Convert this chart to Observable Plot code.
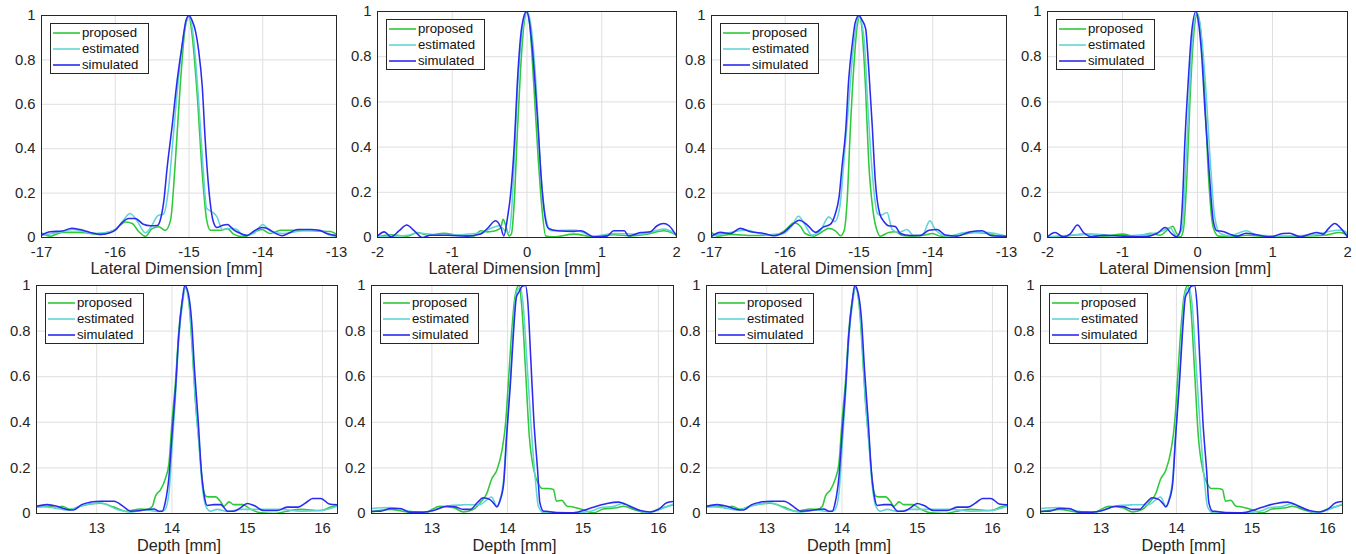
<!DOCTYPE html>
<html>
<head>
<meta charset="utf-8">
<script src="https://cdn.jsdelivr.net/npm/d3@7"></script>
<script src="https://cdn.jsdelivr.net/npm/@observablehq/plot@0.6"></script>
<style>
  html, body { margin: 0; padding: 0; background: #fff; }
  #root { position: relative; width: 1356px; height: 554px; overflow: hidden; background: #fff;
          font-family: "Liberation Sans", Arial, Helvetica, sans-serif; color: #262626; }
  .panel { position: absolute; }
  .panel svg { display: block; overflow: visible; }
  .legend { position: absolute; box-sizing: border-box; background: #fff; border: 1px solid #262626;
            font-size: 13.2px; color: #111; padding-top: 1px; }
  .legend .row { height: 16px; line-height: 16px; white-space: nowrap; display: flex; align-items: center; }
  .legend svg { display: block; margin-left: 2px; margin-right: 2px; flex: none; }
  .xlabel { position: absolute; font-size: 16.3px; line-height: 16.3px; white-space: nowrap; transform: translateX(-50%); }
</style>
</head>
<body>
<div id="root"></div>
<script>
// ---------- series / ticks ----------
const seriesNames = ["proposed", "estimated", "simulated"];
const seriesColors = ["#2fc93a", "#62d3d9", "#2b2bf0"];
const yTicks = [0, 0.2, 0.4, 0.6, 0.8, 1];
const lateralTicksA = [-17, -16, -15, -14, -13];
const lateralTicksB = [-2, -1, 0, 1, 2];
const depthTicks = [13, 14, 15, 16];
const xLabelLateral = "Lateral Dimension [mm]";
const xLabelDepth = "Depth [mm]";

// ---------- panel 1 (lateral, around -15 mm) ----------
const p1Proposed = [[-17.00,0.020],[-16.88,0.006],[-16.72,0.023],[-16.48,0.023],[-16.20,0.014],[-16.00,0.036],[-15.86,0.070],[-15.77,0.063],[-15.68,0.026],[-15.59,0.005],[-15.50,0.040],[-15.41,0.048],[-15.32,0.032],[-15.25,0.078],[-15.19,0.318],[-15.12,0.679],[-15.05,0.949],[-15.00,0.994],[-14.96,0.919],[-14.89,0.650],[-14.82,0.288],[-14.76,0.078],[-14.71,0.033],[-14.57,0.033],[-14.48,0.040],[-14.39,0.014],[-14.26,0.003],[-14.12,0.024],[-14.01,0.036],[-13.90,0.018],[-13.76,0.033],[-13.49,0.033],[-13.22,0.029],[-13.08,0.027],[-13.00,0.014]];
const p1Estimated = [[-17.00,0.009],[-16.72,0.026],[-16.57,0.036],[-16.29,0.018],[-16.00,0.033],[-15.89,0.078],[-15.80,0.108],[-15.71,0.078],[-15.59,0.021],[-15.50,0.056],[-15.43,0.096],[-15.34,0.108],[-15.28,0.213],[-15.21,0.468],[-15.14,0.724],[-15.07,0.919],[-15.00,0.994],[-14.94,0.904],[-14.87,0.619],[-14.81,0.318],[-14.76,0.131],[-14.69,0.116],[-14.62,0.093],[-14.55,0.036],[-14.44,0.041],[-14.35,0.036],[-14.26,0.009],[-14.12,0.018],[-14.00,0.059],[-13.90,0.029],[-13.74,0.018],[-13.49,0.029],[-13.22,0.033],[-13.10,0.011],[-13.00,0.006]];
const p1Simulated = [[-17.00,0.011],[-16.88,0.026],[-16.72,0.029],[-16.59,0.042],[-16.48,0.036],[-16.34,0.023],[-16.20,0.014],[-16.07,0.021],[-16.00,0.033],[-15.91,0.066],[-15.82,0.086],[-15.73,0.086],[-15.62,0.060],[-15.52,0.053],[-15.43,0.054],[-15.39,0.078],[-15.34,0.168],[-15.30,0.303],[-15.23,0.498],[-15.16,0.709],[-15.09,0.874],[-15.04,0.979],[-15.00,1.000],[-14.96,0.979],[-14.91,0.926],[-14.87,0.844],[-14.82,0.679],[-14.78,0.438],[-14.73,0.213],[-14.67,0.071],[-14.62,0.045],[-14.55,0.054],[-14.48,0.059],[-14.39,0.033],[-14.30,0.018],[-14.21,0.009],[-14.12,0.029],[-14.01,0.045],[-13.94,0.041],[-13.85,0.023],[-13.74,0.008],[-13.62,0.024],[-13.53,0.036],[-13.35,0.036],[-13.24,0.033],[-13.13,0.018],[-13.00,0.008]];

// ---------- panel 2 (lateral, around 0 mm) ----------
const p2Proposed = [[-2.00,0.003],[-1.82,0.012],[-1.60,0.006],[-1.47,0.022],[-1.33,0.010],[-1.11,0.019],[-0.93,0.010],[-0.71,0.007],[-0.62,0.030],[-0.53,0.025],[-0.42,0.030],[-0.35,0.044],[-0.32,0.081],[-0.29,0.059],[-0.24,0.007],[-0.21,0.015],[-0.17,0.160],[-0.13,0.460],[-0.085,0.750],[-0.04,0.945],[0.00,1.000],[0.04,0.930],[0.09,0.680],[0.15,0.350],[0.20,0.130],[0.25,0.007],[0.36,0.003],[0.63,0.015],[0.90,0.003],[1.16,0.012],[1.39,0.007],[1.61,0.015],[1.83,0.030],[2.00,0.012]];
const p2Estimated = [[-2.00,0.003],[-1.60,0.010],[-1.47,0.020],[-1.15,0.010],[-0.62,0.020],[-0.49,0.040],[-0.37,0.052],[-0.29,0.030],[-0.24,0.022],[-0.21,0.100],[-0.17,0.340],[-0.13,0.635],[-0.06,0.920],[0.00,1.000],[0.06,0.920],[0.12,0.680],[0.18,0.310],[0.25,0.089],[0.32,0.030],[0.63,0.033],[0.90,0.006],[1.16,0.018],[1.52,0.015],[1.83,0.037],[2.00,0.015]];
const p2Simulated = [[-2.00,0.007],[-1.91,0.025],[-1.82,0.003],[-1.71,0.030],[-1.61,0.055],[-1.51,0.030],[-1.40,0.000],[-1.29,0.010],[-1.06,0.010],[-0.80,0.006],[-0.62,0.015],[-0.53,0.040],[-0.42,0.074],[-0.35,0.044],[-0.31,0.007],[-0.26,0.089],[-0.22,0.190],[-0.17,0.410],[-0.13,0.680],[-0.085,0.890],[-0.04,0.980],[-0.01,1.000],[0.03,0.960],[0.07,0.840],[0.14,0.530],[0.20,0.220],[0.25,0.074],[0.29,0.040],[0.41,0.030],[0.63,0.027],[0.72,0.030],[0.90,0.003],[1.07,0.006],[1.16,0.030],[1.30,0.030],[1.36,0.007],[1.52,0.022],[1.65,0.025],[1.74,0.052],[1.83,0.062],[1.90,0.052],[2.00,0.007]];

// ---------- panel 3 (lateral, around -15 mm) ----------
const p3Proposed = [[-17.00,0.023],[-16.92,0.006],[-16.74,0.014],[-16.43,0.009],[-16.11,0.014],[-16.00,0.033],[-15.88,0.066],[-15.79,0.048],[-15.73,0.018],[-15.61,0.006],[-15.50,0.026],[-15.41,0.041],[-15.32,0.030],[-15.25,0.008],[-15.20,0.033],[-15.16,0.170],[-15.12,0.470],[-15.07,0.770],[-15.02,0.965],[-14.99,0.995],[-14.96,0.940],[-14.91,0.665],[-14.87,0.350],[-14.81,0.120],[-14.75,0.026],[-14.71,0.006],[-14.60,0.023],[-14.51,0.026],[-14.41,0.009],[-14.26,0.006],[-14.10,0.011],[-14.01,0.018],[-13.89,0.006],[-13.67,0.009],[-13.44,0.023],[-13.26,0.018],[-13.13,0.008],[-13.00,0.006]];
const p3Estimated = [[-17.00,0.006],[-16.83,0.018],[-16.52,0.033],[-16.25,0.011],[-16.02,0.018],[-15.91,0.053],[-15.82,0.096],[-15.73,0.056],[-15.64,0.011],[-15.52,0.033],[-15.41,0.093],[-15.33,0.071],[-15.26,0.138],[-15.21,0.320],[-15.14,0.600],[-15.07,0.875],[-15.00,0.995],[-14.93,0.890],[-14.88,0.590],[-14.82,0.290],[-14.75,0.108],[-14.71,0.100],[-14.62,0.113],[-14.55,0.036],[-14.46,0.023],[-14.35,0.036],[-14.26,0.009],[-14.14,0.011],[-14.04,0.075],[-13.96,0.033],[-13.80,0.006],[-13.53,0.023],[-13.31,0.023],[-13.15,0.018],[-13.00,0.006]];
const p3Simulated = [[-17.00,0.006],[-16.88,0.023],[-16.74,0.018],[-16.61,0.041],[-16.47,0.026],[-16.29,0.018],[-16.15,0.008],[-16.02,0.023],[-15.91,0.056],[-15.81,0.078],[-15.70,0.056],[-15.59,0.023],[-15.48,0.048],[-15.39,0.059],[-15.32,0.108],[-15.27,0.183],[-15.23,0.320],[-15.18,0.484],[-15.14,0.710],[-15.09,0.874],[-15.05,0.970],[-15.00,1.000],[-14.96,0.980],[-14.91,0.941],[-14.87,0.770],[-14.82,0.500],[-14.78,0.260],[-14.72,0.108],[-14.66,0.071],[-14.60,0.053],[-14.51,0.050],[-14.44,0.018],[-14.30,0.009],[-14.17,0.009],[-14.05,0.033],[-13.94,0.036],[-13.83,0.011],[-13.67,0.006],[-13.49,0.026],[-13.33,0.030],[-13.20,0.008],[-13.00,0.006]];

// ---------- panel 4 (lateral, around 0 mm) ----------
const p4Proposed = [[-2.00,0.003],[-1.74,0.007],[-1.48,0.015],[-1.25,0.006],[-1.00,0.015],[-0.81,0.003],[-0.63,0.019],[-0.50,0.010],[-0.39,0.037],[-0.33,0.050],[-0.28,0.019],[-0.23,0.003],[-0.19,0.030],[-0.14,0.280],[-0.10,0.610],[-0.05,0.900],[0.00,0.990],[0.04,0.920],[0.09,0.680],[0.14,0.310],[0.21,0.044],[0.28,0.006],[0.48,0.003],[0.65,0.010],[0.97,0.003],[1.37,0.006],[1.68,0.010],[1.90,0.022],[2.00,0.010]];
const p4Estimated = [[-2.00,0.003],[-1.70,0.010],[-1.43,0.015],[-0.99,0.007],[-0.63,0.015],[-0.46,0.030],[-0.37,0.044],[-0.28,0.007],[-0.20,0.044],[-0.17,0.220],[-0.12,0.560],[-0.07,0.870],[-0.01,0.990],[0.04,0.930],[0.10,0.710],[0.17,0.340],[0.23,0.089],[0.30,0.019],[0.43,0.007],[0.65,0.030],[0.79,0.010],[1.14,0.007],[1.50,0.010],[1.81,0.030],[1.92,0.033],[2.00,0.019]];
const p4Simulated = [[-2.00,0.003],[-1.90,0.022],[-1.79,0.003],[-1.70,0.015],[-1.60,0.055],[-1.52,0.022],[-1.41,0.003],[-1.25,0.010],[-0.99,0.006],[-0.72,0.003],[-0.54,0.018],[-0.43,0.044],[-0.34,0.015],[-0.28,0.003],[-0.23,0.030],[-0.20,0.160],[-0.17,0.410],[-0.12,0.710],[-0.08,0.900],[-0.02,1.000],[0.01,0.960],[0.055,0.810],[0.10,0.560],[0.16,0.270],[0.21,0.074],[0.26,0.030],[0.34,0.027],[0.43,0.015],[0.52,0.006],[0.65,0.019],[0.74,0.015],[0.97,0.003],[1.14,0.018],[1.23,0.019],[1.37,0.003],[1.50,0.015],[1.59,0.022],[1.68,0.015],[1.74,0.037],[1.83,0.062],[1.92,0.037],[2.00,0.003]];

// ---------- panels 5 & 7 (depth) ----------
const p5Proposed = [[12.20,0.029],[12.38,0.032],[12.47,0.022],[12.54,0.032],[12.65,0.018],[12.78,0.032],[12.92,0.042],[13.05,0.045],[13.23,0.028],[13.40,0.010],[13.58,0.020],[13.67,0.018],[13.74,0.032],[13.78,0.076],[13.85,0.105],[13.91,0.150],[13.96,0.220],[14.00,0.400],[14.05,0.590],[14.09,0.795],[14.14,0.940],[14.18,0.990],[14.23,0.910],[14.27,0.720],[14.31,0.500],[14.36,0.310],[14.40,0.150],[14.45,0.076],[14.49,0.073],[14.58,0.073],[14.65,0.050],[14.69,0.032],[14.76,0.051],[14.82,0.039],[14.94,0.039],[15.05,0.018],[15.18,0.003],[15.36,0.000],[15.53,0.010],[15.71,0.018],[15.98,0.013],[16.11,0.028],[16.20,0.035]];
const p5Estimated = [[12.20,0.032],[12.43,0.025],[12.60,0.015],[12.78,0.032],[13.05,0.047],[13.27,0.018],[13.45,0.006],[13.67,0.015],[13.80,0.009],[13.87,0.010],[13.91,0.018],[13.96,0.090],[14.00,0.280],[14.05,0.530],[14.09,0.760],[14.14,0.920],[14.18,0.990],[14.23,0.920],[14.27,0.750],[14.31,0.510],[14.36,0.300],[14.40,0.130],[14.45,0.032],[14.51,0.010],[14.60,0.018],[14.74,0.009],[14.91,0.018],[15.18,0.018],[15.45,0.018],[15.71,0.010],[15.98,0.013],[16.20,0.032]];
const p5Simulated = [[12.20,0.032],[12.34,0.039],[12.47,0.032],[12.60,0.018],[12.69,0.015],[12.80,0.039],[12.92,0.050],[13.05,0.054],[13.23,0.054],[13.36,0.029],[13.45,0.010],[13.58,0.013],[13.67,0.018],[13.76,0.020],[13.83,0.010],[13.87,0.010],[13.91,0.047],[13.96,0.160],[14.00,0.340],[14.05,0.560],[14.09,0.780],[14.14,0.940],[14.17,1.000],[14.22,0.960],[14.26,0.850],[14.30,0.630],[14.35,0.400],[14.39,0.190],[14.43,0.076],[14.47,0.035],[14.56,0.039],[14.65,0.039],[14.74,0.010],[14.82,0.010],[14.91,0.025],[15.00,0.044],[15.09,0.035],[15.22,0.013],[15.40,0.013],[15.53,0.028],[15.67,0.028],[15.78,0.047],[15.87,0.066],[15.98,0.066],[16.09,0.042],[16.20,0.038]];

// ---------- panels 6 & 8 (depth) ----------
const p6Proposed = [[12.20,0.007],[12.45,0.018],[12.67,0.007],[12.89,0.003],[13.11,0.032],[13.29,0.025],[13.42,0.007],[13.55,0.018],[13.64,0.047],[13.73,0.090],[13.79,0.150],[13.86,0.190],[13.93,0.280],[13.98,0.410],[14.01,0.560],[14.06,0.810],[14.10,0.950],[14.15,1.000],[14.19,0.910],[14.24,0.630],[14.29,0.340],[14.35,0.190],[14.41,0.130],[14.46,0.110],[14.54,0.110],[14.61,0.105],[14.65,0.054],[14.72,0.058],[14.79,0.032],[14.87,0.029],[15.01,0.015],[15.14,0.003],[15.27,0.020],[15.45,0.025],[15.54,0.032],[15.67,0.018],[15.85,0.003],[16.02,0.022],[16.20,0.038]];
const p6Estimated = [[12.20,0.022],[12.45,0.026],[12.67,0.012],[12.89,0.003],[13.07,0.020],[13.24,0.035],[13.42,0.038],[13.64,0.039],[13.73,0.061],[13.79,0.072],[13.86,0.032],[13.90,0.061],[13.95,0.150],[13.99,0.350],[14.04,0.600],[14.08,0.830],[14.12,0.970],[14.17,0.990],[14.21,0.910],[14.26,0.660],[14.31,0.400],[14.37,0.150],[14.41,0.032],[14.48,0.003],[14.61,0.006],[14.87,0.003],[15.10,0.010],[15.23,0.025],[15.41,0.032],[15.54,0.044],[15.67,0.025],[15.85,0.003],[16.02,0.018],[16.20,0.042]];
const p6Simulated = [[12.20,0.010],[12.32,0.010],[12.45,0.022],[12.58,0.022],[12.71,0.006],[12.89,0.006],[13.02,0.013],[13.20,0.032],[13.31,0.029],[13.42,0.018],[13.51,0.018],[13.60,0.047],[13.68,0.069],[13.77,0.061],[13.82,0.044],[13.86,0.029],[13.90,0.054],[13.95,0.130],[13.99,0.340],[14.04,0.570],[14.08,0.790],[14.12,0.950],[14.16,0.975],[14.19,0.995],[14.24,1.000],[14.27,0.930],[14.31,0.675],[14.35,0.410],[14.40,0.190],[14.43,0.047],[14.48,0.010],[14.54,0.009],[14.65,0.003],[14.87,0.003],[15.05,0.018],[15.18,0.032],[15.32,0.044],[15.47,0.050],[15.62,0.032],[15.76,0.013],[15.89,0.007],[16.00,0.018],[16.11,0.047],[16.20,0.053]];

// ---------- layout (frame edges in page pixels) ----------
const panels = [
  { series: [p1Proposed, p1Estimated, p1Simulated], domain: [-17, -13], ticks: lateralTicksA, label: xLabelLateral, frame: [41, 15, 336, 237], row: 0 },
  { series: [p2Proposed, p2Estimated, p2Simulated], domain: [-2, 2],    ticks: lateralTicksB, label: xLabelLateral, frame: [377, 11, 676, 237], row: 0 },
  { series: [p3Proposed, p3Estimated, p3Simulated], domain: [-17, -13], ticks: lateralTicksA, label: xLabelLateral, frame: [711, 15, 1006, 237], row: 0 },
  { series: [p4Proposed, p4Estimated, p4Simulated], domain: [-2, 2],    ticks: lateralTicksB, label: xLabelLateral, frame: [1047, 11, 1347, 237], row: 0 },
  { series: [p5Proposed, p5Estimated, p5Simulated], domain: [12.2, 16.2], ticks: depthTicks, label: xLabelDepth, frame: [36, 285, 337, 513], row: 1 },
  { series: [p6Proposed, p6Estimated, p6Simulated], domain: [12.2, 16.2], ticks: depthTicks, label: xLabelDepth, frame: [371, 285, 673, 513], row: 1 },
  { series: [p5Proposed, p5Estimated, p5Simulated], domain: [12.2, 16.2], ticks: depthTicks, label: xLabelDepth, frame: [706, 285, 1007, 513], row: 1 },
  { series: [p6Proposed, p6Estimated, p6Simulated], domain: [12.2, 16.2], ticks: depthTicks, label: xLabelDepth, frame: [1040, 285, 1342, 513], row: 1 }
];

const FONT = '"Liberation Sans", Arial, Helvetica, sans-serif';
const TICK_FS = 14.8;
const M = { left: 36, right: 8, top: 8, bottom: 30 };
const root = document.getElementById("root");
const fmt = d => String(d);
const SVGNS = "http://www.w3.org/2000/svg";

panels.forEach(p => {
  const [fl, ft, fr, fb] = p.frame;
  const w = fr - fl, h = fb - ft;
  const rows = p.series.flatMap((s, i) => s.map(([x, y]) => ({ x, y, series: seriesNames[i] })));
  const chart = Plot.plot({
    width: w + M.left + M.right,
    height: h + M.top + M.bottom,
    marginLeft: M.left, marginRight: M.right, marginTop: M.top, marginBottom: M.bottom,
    style: { background: "transparent", fontFamily: FONT, fontSize: TICK_FS + "px", color: "#262626", overflow: "visible" },
    x: { domain: p.domain },
    y: { domain: [0, 1] },
    color: { domain: seriesNames, range: seriesColors },
    marks: [
      Plot.gridX(p.ticks, { stroke: "#dfdfdf", strokeOpacity: 1, strokeWidth: 1 }),
      Plot.gridY(yTicks, { stroke: "#dfdfdf", strokeOpacity: 1, strokeWidth: 1 }),
      Plot.line(rows, { x: "x", y: "y", z: "series", stroke: "series", strokeWidth: 1.55, curve: "monotone-x", clip: true }),
      Plot.frame({ stroke: "#262626", strokeWidth: 1 }),
      Plot.axisX(p.ticks, { tickSize: 0, tickPadding: 9, tickFormat: fmt, label: null, fill: "#262626", fontSize: TICK_FS }),
      Plot.axisY(yTicks, { tickSize: 0, tickPadding: 6, tickFormat: fmt, label: null, fill: "#262626", fontSize: TICK_FS })
    ]
  });
  const holder = document.createElement("div");
  holder.className = "panel";
  holder.style.left = (fl - M.left) + "px";
  holder.style.top = (ft - M.top) + "px";
  holder.style.width = (w + M.left + M.right) + "px";
  holder.style.height = (h + M.top + M.bottom) + "px";
  holder.appendChild(chart);
  root.appendChild(holder);

  // legend
  const lg = document.createElement("div");
  lg.className = "legend";
  lg.style.left = (fl + 9) + "px";
  lg.style.top = (ft + 8) + "px";
  lg.style.width = "99px";
  lg.style.height = "51px";
  seriesNames.forEach((name, i) => {
    const r = document.createElement("div");
    r.className = "row";
    const sw = document.createElementNS(SVGNS, "svg");
    sw.setAttribute("width", "27");
    sw.setAttribute("height", "4");
    const ln = document.createElementNS(SVGNS, "line");
    ln.setAttribute("x1", "0"); ln.setAttribute("x2", "27");
    ln.setAttribute("y1", "2"); ln.setAttribute("y2", "2");
    ln.setAttribute("stroke", seriesColors[i]);
    ln.setAttribute("stroke-width", "1.6");
    sw.appendChild(ln);
    const t = document.createElement("span");
    t.textContent = name;
    r.appendChild(sw); r.appendChild(t);
    lg.appendChild(r);
  });
  root.appendChild(lg);

  // x label
  const xl = document.createElement("div");
  xl.className = "xlabel";
  xl.textContent = p.label;
  xl.style.left = ((fl + fr) / 2 + (p.row === 0 ? -12 : -7.5)) + "px";
  xl.style.top = (p.row === 0 ? 259.5 : 536.5) + "px";
  root.appendChild(xl);
});
</script>
</body>
</html>
